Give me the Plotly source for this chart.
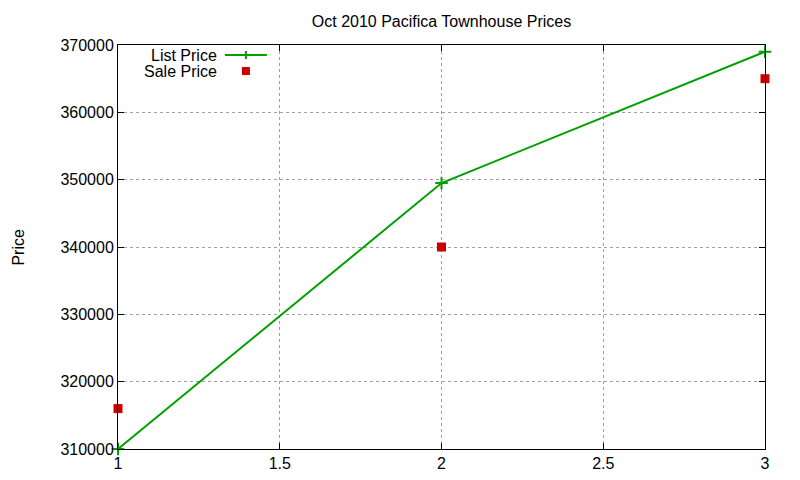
import plotly.graph_objects as go

# Oct 2010 Pacifica townhouse sales
sale_index = [1, 2, 3]
list_price = [310000, 349500, 369000]
sale_price = [316000, 340000, 365000]

x_ticks = [1, 1.5, 2, 2.5, 3]
y_ticks = [310000, 320000, 330000, 340000, 350000, 360000, 370000]

green = "#00a000"
red = "#cc0000"
font_name = "Liberation Sans, Arial, sans-serif"

fig = go.Figure()
fig.add_trace(go.Scatter(
    x=sale_index, y=list_price, mode="lines+markers", name="List Price",
    line=dict(color=green, width=2),
    marker=dict(symbol="cross-thin", size=9, line=dict(color=green, width=2)),
    cliponaxis=False,
))
fig.add_trace(go.Scatter(
    x=sale_index, y=sale_price, mode="markers", name="Sale Price",
    marker=dict(symbol="square", size=9, color=red),
    cliponaxis=False,
))

# the page body adds an 8px offset, so the figure is drawn 8px smaller
page_off = 8
plot_left, plot_right, plot_top, plot_bottom = 118, 765.5, 45, 449


def px_x(p):
    return (p - plot_left) / (plot_right - plot_left)


def px_y(p):
    return (plot_bottom - p) / (plot_bottom - plot_top)


# gnuplot-style key: text on the left, sample on the right
annotations = []
shapes = []
for row_y, label in [(55, "List Price"), (71, "Sale Price")]:
    annotations.append(dict(
        x=px_x(218), y=px_y(row_y), xref="paper", yref="paper", text=label,
        showarrow=False, xanchor="right", yanchor="middle", height=14, borderpad=0,
        font=dict(family=font_name, size=16, color="black"),
    ))
annotations.append(dict(
    x=px_x(page_off), y=0.5, xref="paper", yref="paper", text="Price", textangle=-90,
    showarrow=False, xanchor="left", yanchor="middle", borderpad=0,
    font=dict(family=font_name, size=16, color="black"),
))
shapes.append(dict(type="line", xref="paper", yref="paper",
                   x0=px_x(225), x1=px_x(267), y0=px_y(55), y1=px_y(55),
                   line=dict(color=green, width=2)))
shapes.append(dict(type="line", xref="paper", yref="paper",
                   x0=px_x(246), x1=px_x(246), y0=px_y(51), y1=px_y(59),
                   line=dict(color=green, width=2)))
shapes.append(dict(type="rect", xref="paper", yref="paper",
                   x0=px_x(242), x1=px_x(250), y0=px_y(67), y1=px_y(75),
                   line=dict(width=0), fillcolor=red))

axis_common = dict(
    showline=True, linecolor="black", linewidth=1, mirror="allticks",
    ticks="inside", ticklen=6, tickcolor="black", tickwidth=1,
    showgrid=True, gridcolor="#a0a0a0", griddash="dot", gridwidth=1,
    zeroline=False, automargin=False,
    tickfont=dict(family=font_name, size=16, color="black"),
)

fig_w, fig_h = 800 - page_off, 480 - page_off
fig.update_layout(
    width=fig_w, height=fig_h,
    margin=dict(l=plot_left - page_off, r=800 - plot_right,
                t=plot_top - page_off, b=480 - plot_bottom, pad=0),
    paper_bgcolor="white", plot_bgcolor="white",
    showlegend=False,
    title=dict(text="Oct 2010 Pacifica Townhouse Prices", x=0.5, xref="paper",
               xanchor="center", y=1 - (21 - page_off) / fig_h, yanchor="middle",
               font=dict(family=font_name, size=16, color="black")),
    xaxis=dict(range=[1, 3], tickvals=x_ticks, ticktext=[str(v) for v in x_ticks],
               **axis_common),
    yaxis=dict(range=[310000, 370000], tickvals=y_ticks,
               ticktext=[str(v) for v in y_ticks], **axis_common),
    annotations=annotations,
    shapes=shapes,
)

fig.write_html("out.html")
